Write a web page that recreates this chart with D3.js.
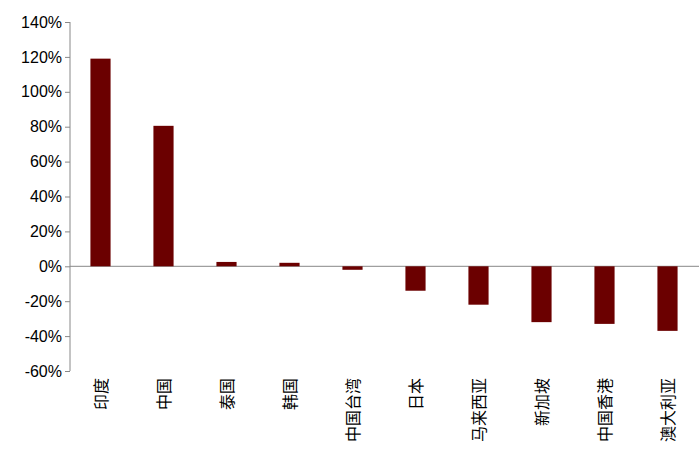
<!DOCTYPE html>
<html><head><meta charset="utf-8">
<script src="https://cdn.jsdelivr.net/npm/d3@7"></script>
<style>body{margin:0;background:#fff}</style>
</head><body><svg id="c" width="700" height="471"></svg>
<script>
const categories=["印度","中国","泰国","韩国","中国台湾","日本","马来西亚","新加坡","中国香港","澳大利亚"];
const values=[119,80.5,2.5,2,-2,-14,-22,-32,-33,-37];
const yTicks=[-60,-40,-20,0,20,40,60,80,100,140,120];
const svg=d3.select("#c");
const font="Arial, 'Liberation Sans', 'Noto Sans CJK SC', sans-serif";
const x=d3.scaleBand().domain(categories).range([69,699]).paddingInner(0.68).paddingOuter(0.34);
const y=d3.scaleLinear().domain([-60,140]).range([371,22]);
const ya=svg.append("g").attr("transform","translate(70,0)")
 .call(d3.axisLeft(y).tickValues(yTicks).tickSize(5).tickFormat(d=>d+"%"));
ya.selectAll("text").style("font-family",font).style("font-size","16px").attr("fill","#000");
ya.selectAll("line,path").attr("stroke","#888");
ya.select("path").attr("d","M0,22V371");
svg.append("line").attr("x1",70).attr("x2",699).attr("y1",y(0)).attr("y2",y(0)).attr("stroke","#888");
svg.selectAll("rect.b").data(values).enter().append("rect")
 .attr("x",(d,i)=>x(categories[i])).attr("width",x.bandwidth())
 .attr("y",d=>y(Math.max(0,d))).attr("height",d=>Math.abs(y(d)-y(0)))
 .attr("fill","#6b0000");
svg.selectAll("text.l").data(categories).enter().append("text")
 .attr("transform",d=>`translate(${x(d)+x.bandwidth()/2+6},378) rotate(-90)`)
 .attr("text-anchor","end").style("font-family",font).style("font-size","16px").text(d=>d);
</script></body></html>
